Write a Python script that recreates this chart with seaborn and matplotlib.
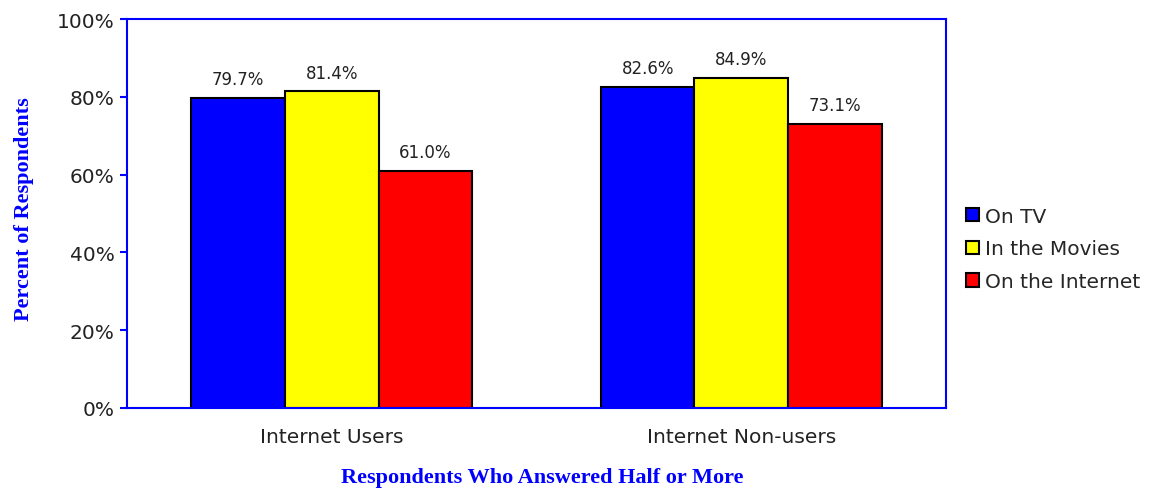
import matplotlib.pyplot as plt
import pandas as pd
import seaborn as sns

groups = ["Internet Users", "Internet Non-users"]
series = ["On TV", "In the Movies", "On the Internet"]
on_tv = [79.7, 82.6]
in_movies = [81.4, 84.9]
on_internet = [61.0, 73.1]
colors = ["#0000FF", "#FFFF00", "#FF0000"]

rows = []
for name, vals in zip(series, [on_tv, in_movies, on_internet]):
    for grp, val in zip(groups, vals):
        rows.append({"group": grp, "series": name, "value": val})
data = pd.DataFrame(rows)

sns.set_style("white")
plt.rcParams["font.family"] = ["DejaVu Sans"]

fig = plt.figure(figsize=(11.54, 4.89), dpi=100)
ax = fig.add_axes([127 / 1154, 80 / 489, 819 / 1154, 389 / 489])

sns.barplot(
    data=data, x="group", y="value", hue="series",
    order=groups, hue_order=series, palette=colors,
    saturation=1, width=0.685, edgecolor="black", linewidth=1.5,
    ax=ax,
)

for cont in ax.containers:
    ax.bar_label(cont, fmt="%.1f%%", padding=7, fontsize=12,
                 color="#222222")

ax.set_xlim(-0.5, 1.5)
ax.set_ylim(0, 100)
ax.set_yticks(range(0, 101, 20))
ax.set_yticklabels([f"{v}%" for v in range(0, 101, 20)])
ax.tick_params(axis="y", length=5, width=1.5, color="#0000FF", pad=4,
               labelsize=14.5, labelcolor="#222222", left=True)
ax.tick_params(axis="x", length=0, pad=14, labelsize=14.5,
               labelcolor="#222222")
for sp in ax.spines.values():
    sp.set_color("#0000FF")
    sp.set_linewidth(1.5)

ax.set_xlabel("Respondents Who Answered Half or More",
              family="Liberation Serif", fontweight="bold", fontsize=16,
              color="#0000FF", va="center")
ax.xaxis.set_label_coords(0.507, -0.177)
ax.set_ylabel("Percent of Respondents",
              family="Liberation Serif", fontweight="bold", fontsize=16,
              color="#0000FF", va="center")
ax.yaxis.set_label_coords(-0.126, 0.515)

ax.legend(
    loc="center left", bbox_to_anchor=(966 / 1154, 0.489),
    bbox_transform=fig.transFigure, frameon=False, fontsize=14.5,
    borderpad=0, borderaxespad=0, handlelength=0.65, handleheight=0.65,
    handletextpad=0.3, labelspacing=0.68, title=None,
)

fig.savefig("out.png", dpi=100)
